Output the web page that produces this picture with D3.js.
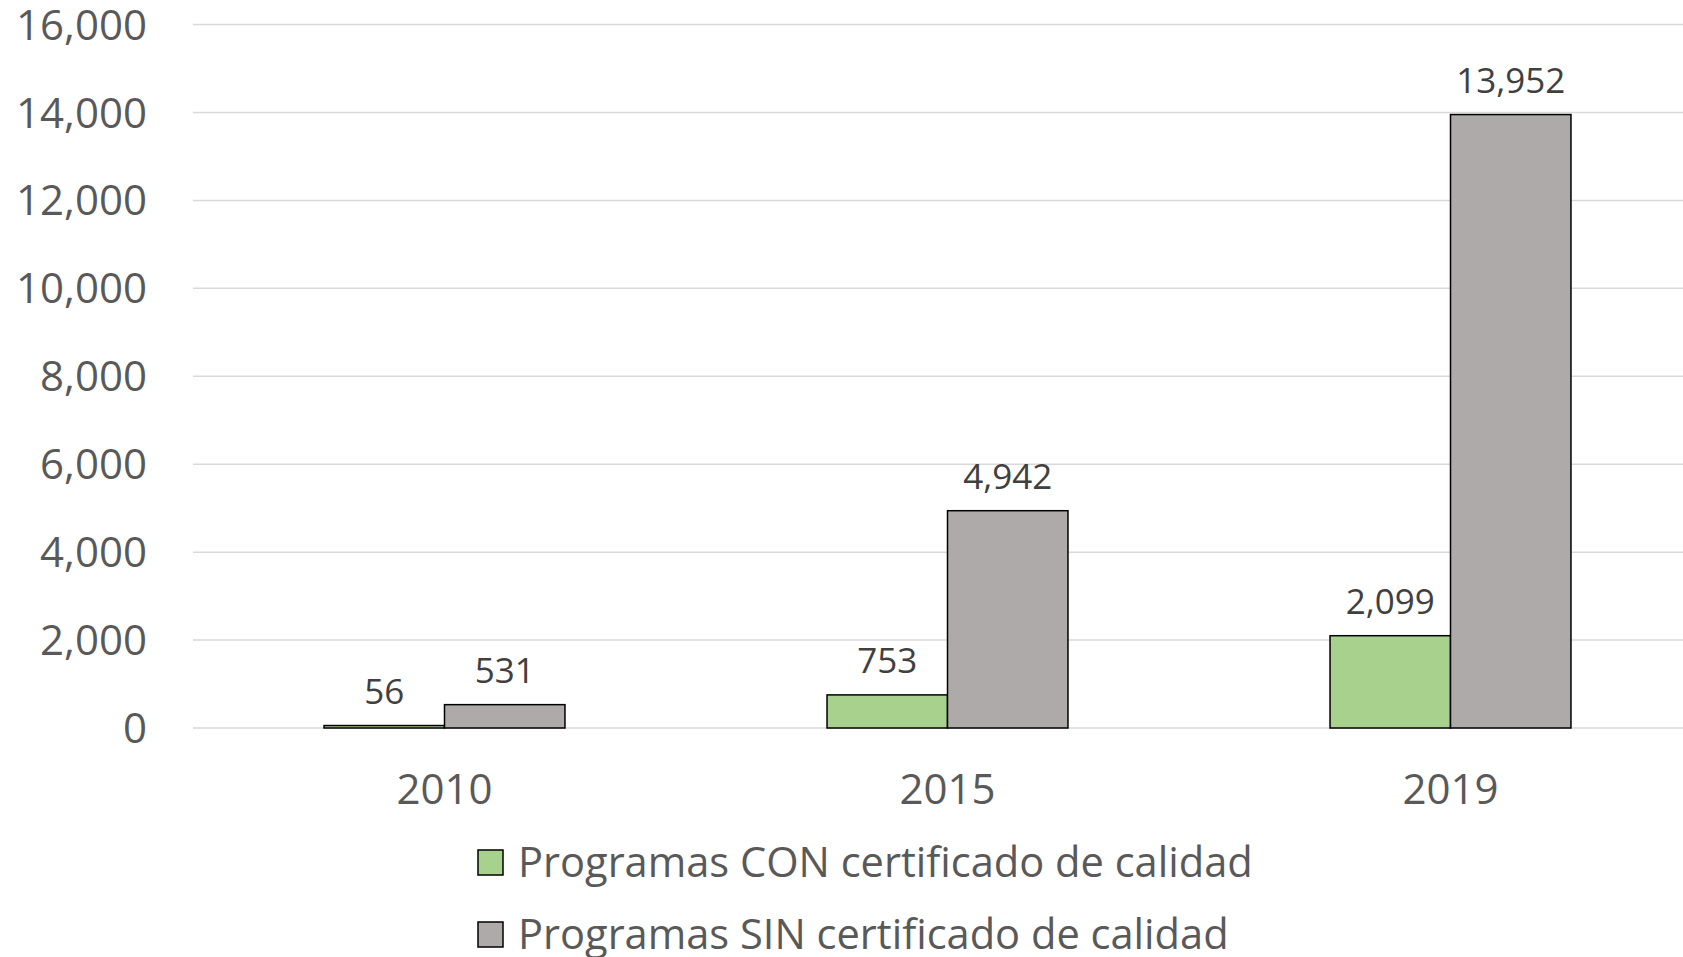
<!DOCTYPE html>
<html>
<head>
<meta charset="utf-8">
<title>Programas</title>
<style>
  body { margin: 0; background: #fff; }
  svg { display: block; font-family: "Open Sans", sans-serif; }
</style>
</head>
<body>
<svg id="chart" width="1683" height="957"></svg>
<script src="https://d3js.org/d3.v7.min.js"></script>
<script>
var years = ["2010", "2015", "2019"];
var seriesNames = ["Programas CON certificado de calidad", "Programas SIN certificado de calidad"];
var conValues = [56, 753, 2099];
var sinValues = [531, 4942, 13952];
var yTicks = [0, 2000, 4000, 6000, 8000, 10000, 12000, 14000, 16000];
var colors = ["#a9d18e", "#aeaaaa"];

var svg = d3.select("#chart");

var x = d3.scaleBand()
  .domain(years)
  .range([193, 1702])
  .paddingInner(0.521)
  .paddingOuter(0.2605);

var xs = d3.scaleBand()
  .domain([0, 1])
  .range([0, x.bandwidth()]);

var y = d3.scaleLinear()
  .domain([0, 16000])
  .range([728, 24.5]);

var fmt = d3.format(",");

// grid
svg.append("g")
  .selectAll("line")
  .data(yTicks)
  .enter()
  .append("line")
  .attr("x1", 193)
  .attr("x2", 1702)
  .attr("y1", function(d) { return y(d); })
  .attr("y2", function(d) { return y(d); })
  .attr("stroke", "#d9d9d9")
  .attr("stroke-width", 1.5);

// y axis labels
svg.append("g")
  .selectAll("text")
  .data(yTicks)
  .enter()
  .append("text")
  .attr("x", 147)
  .attr("y", function(d) { return y(d); })
  .attr("dy", "0.36em")
  .attr("text-anchor", "end")
  .attr("fill", "#595959")
  .style("font-size", "42px")
  .text(fmt);

// bars
var rows = years.map(function(yr, i) {
  return { year: yr, values: [conValues[i], sinValues[i]] };
});

var groups = svg.append("g")
  .selectAll("g")
  .data(rows)
  .enter()
  .append("g")
  .attr("transform", function(d) { return "translate(" + x(d.year) + ",0)"; });

groups.selectAll("rect")
  .data(function(d) { return d.values; })
  .enter()
  .append("rect")
  .attr("x", function(d, i) { return xs(i); })
  .attr("width", xs.bandwidth())
  .attr("y", function(d) { return y(d); })
  .attr("height", function(d) { return y(0) - y(d); })
  .attr("fill", function(d, i) { return colors[i]; })
  .attr("stroke", "#000")
  .attr("stroke-width", 1.5);

groups.selectAll("text")
  .data(function(d) { return d.values; })
  .enter()
  .append("text")
  .attr("x", function(d, i) { return xs(i) + xs.bandwidth() / 2; })
  .attr("y", function(d) { return y(d) - 22; })
  .attr("text-anchor", "middle")
  .attr("fill", "#404040")
  .style("font-size", "35px")
  .text(fmt);

// x axis labels
svg.append("g")
  .selectAll("text")
  .data(years)
  .enter()
  .append("text")
  .attr("x", function(d) { return x(d) + x.bandwidth() / 2; })
  .attr("y", 804)
  .attr("text-anchor", "middle")
  .attr("fill", "#595959")
  .style("font-size", "42px")
  .text(function(d) { return d; });

// legend
var legend = svg.append("g")
  .selectAll("g")
  .data(seriesNames)
  .enter()
  .append("g")
  .attr("transform", function(d, i) { return "translate(478," + (850 + i * 72) + ")"; });

legend.append("rect")
  .attr("width", 25)
  .attr("height", 25)
  .attr("fill", function(d, i) { return colors[i]; })
  .attr("stroke", "#000")
  .attr("stroke-width", 1.5);

legend.append("text")
  .attr("x", 40)
  .attr("y", 27)
  .attr("fill", "#595959")
  .style("font-size", "41.6px")
  .text(function(d) { return d; });
</script>
</body>
</html>
